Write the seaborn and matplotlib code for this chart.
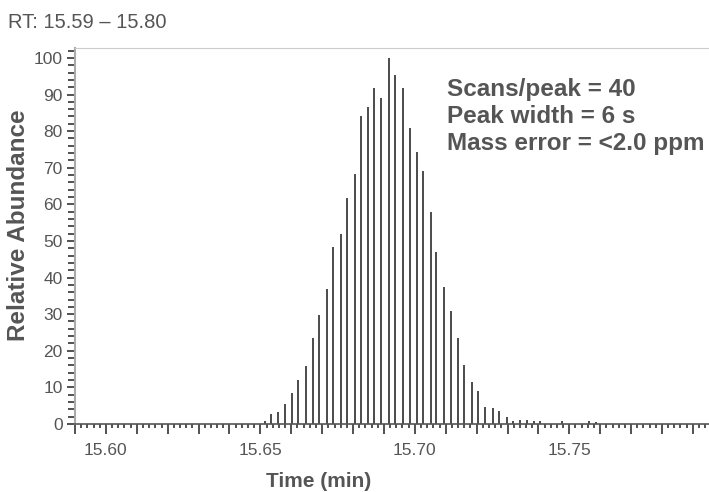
import pandas as pd
import seaborn as sns
import matplotlib.pyplot as plt
from matplotlib.ticker import MultipleLocator, FuncFormatter

# Scan times (min) and relative abundance of each scan
scan_time = [15.6514, 15.6533, 15.6557, 15.6579, 15.6602, 15.6623, 15.6647,
             15.6669, 15.6691, 15.6715, 15.6735, 15.6760, 15.6781, 15.6805,
             15.6825, 15.6848, 15.6869, 15.6892, 15.6915, 15.6937, 15.6961,
             15.6983, 15.7006, 15.7027, 15.7051, 15.7070, 15.7095, 15.7116,
             15.7139, 15.7160, 15.7184, 15.7205, 15.7228, 15.7253, 15.7273,
             15.7297, 15.7318, 15.7340, 15.7362, 15.7386, 15.7405, 15.7476,
             15.7563, 15.7587]
rel_abund = [0.9, 2.7, 3.3, 5.6, 8.4, 12.1, 15.8,
             23.4, 29.8, 37.0, 48.4, 52.0, 61.7, 68.3,
             84.2, 86.6, 91.8, 89.1, 100.0, 95.4, 91.8,
             80.9, 74.3, 69.1, 57.9, 47.1, 37.3, 30.8,
             23.4, 16.1, 11.4, 9.0, 4.6, 4.3, 3.6,
             1.8, 0.8, 1.1, 1.1, 0.8, 0.9, 0.9,
             0.8, 0.5]

rt_range = [15.59, 15.80]
x_labels = [15.60, 15.65, 15.70, 15.75]
note_lines = ["Scans/peak = 40", "Peak width = 6 s", "Mass error = <2.0 ppm"]

df = pd.DataFrame({"time": scan_time, "abund": rel_abund})

sns.set_style("ticks")
plt.rcParams["font.family"] = ["Liberation Sans", "DejaVu Sans"]
grey = "#555555"

fig = plt.figure(figsize=(7.09, 4.92), dpi=100)
# axes runs past the right edge, like the cropped instrument screenshot
ax = fig.add_axes([0.1058, 0.1382, 0.915, 0.7642])

ax.vlines(df["time"], 0, df["abund"], color="#1a1a1a", linewidth=1.1)

ax.set_xlim(rt_range)
ax.set_ylim(0, 102.7)

# x: long ticks every 0.01, short every 0.002, labels every 0.05
ax.xaxis.set_major_locator(MultipleLocator(0.01))
ax.xaxis.set_minor_locator(MultipleLocator(0.002))
ax.xaxis.set_major_formatter(FuncFormatter(
    lambda v, p: f"{v:.2f}" if any(abs(v - t) < 1e-6 for t in x_labels) else ""))
ax.yaxis.set_major_locator(MultipleLocator(10))
ax.yaxis.set_minor_locator(MultipleLocator(2))

ax.tick_params(axis="both", which="both", direction="out", color="#333333",
               labelcolor=grey, labelsize=12.5, width=1.2)
ax.tick_params(axis="x", which="major", length=7, pad=7)
ax.tick_params(axis="x", which="minor", length=3)
ax.tick_params(axis="y", which="major", length=6, pad=3)
ax.tick_params(axis="y", which="minor", length=5)

ax.spines["top"].set_color("#cccccc")
ax.spines["right"].set_visible(False)
ax.spines["left"].set_color("#aaaaaa")
ax.spines["left"].set_linewidth(1.5)
ax.spines["bottom"].set_color("#555555")
ax.spines["bottom"].set_linewidth(1.2)

ax.set_xlabel("Time (min)", fontsize=15, fontweight="bold", color=grey)
ax.set_ylabel("Relative Abundance", fontsize=17.5, fontweight="bold", color=grey)
ax.xaxis.set_label_coords(0.376, -0.127)
ax.yaxis.set_label_coords(-0.07, 0.53)

ax.text(15.7104, 84, "\n".join(note_lines), fontsize=17.5, fontweight="bold",
        color=grey, ha="left", va="center", linespacing=1.2)

fig.text(8 / 709, 1 - 22 / 492, "RT: 15.59 – 15.80", fontsize=14.5,
         color=grey, ha="left", va="center")

fig.savefig("out.png", dpi=100)
